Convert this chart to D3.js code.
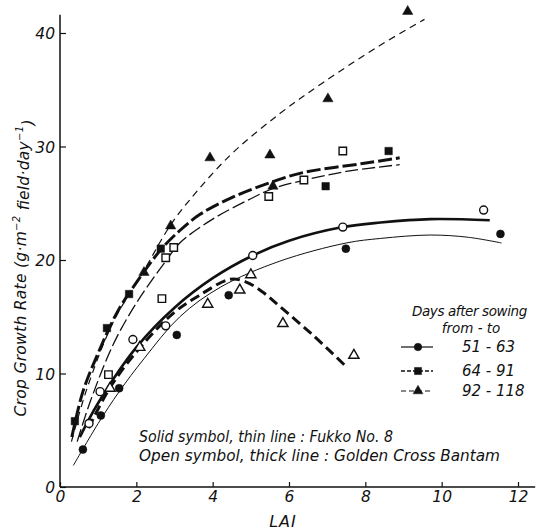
<!DOCTYPE html>
<html>
<head>
<meta charset="utf-8">
<script src="https://cdn.jsdelivr.net/npm/d3@7"></script>
<style>
  body { margin: 0; background: #fff; }
  svg { display: block; }
  text { font-family: "DejaVu Sans", sans-serif; font-style: italic; fill: #111; }
</style>
</head>
<body>
<svg id="chart" width="543" height="531"></svg>
<script>
// Observed crop growth rate vs. LAI, as [LAI, CGR] pairs.
// Fukko No. 8 (solid symbols)
const fukko51 = [[0.6,3.3],[1.07,6.3],[1.55,8.7],[3.06,13.4],[4.42,16.9],[7.49,21.0],[11.54,22.3]];
const fukko64 = [[0.39,5.8],[1.23,14.0],[1.81,17.0],[2.64,21.0],[6.96,26.5],[8.61,29.6]];
const fukko92 = [[2.2,18.9],[2.9,23.0],[3.93,29.0],[5.5,29.25],[5.58,26.5],[7.02,34.2],[9.11,41.9]];
// Golden Cross Bantam (open symbols)
const gcb51 = [[0.76,5.6],[1.05,8.4],[1.91,13.0],[2.77,14.2],[5.05,20.4],[7.41,22.9],[11.1,24.4]];
const gcb64 = [[1.27,9.9],[2.67,16.6],[2.77,20.2],[2.98,21.1],[5.47,25.6],[6.39,27.05],[7.41,29.6]];
const gcb92 = [[1.31,8.7],[2.09,12.3],[3.87,16.1],[4.71,17.35],[5.0,18.7],[5.84,14.4],[7.7,11.6]];

// Fitted response curves, traced as knots along each line.
const fukko51Curve = [[0.35,1.9],[1.0,5.6],[1.55,8.4],[2.2,11.3],[3.14,15.0],[4.2,17.6],[5.76,19.9],[7.5,21.5],[8.4,21.9],[9.7,22.2],[10.7,22.0],[11.57,21.5]];
const fukko64Curve = [[0.45,4.0],[0.8,7.6],[1.4,12.6],[2.0,16.2],[2.77,19.9],[3.14,21.5],[4.0,23.6],[5.0,25.4],[5.58,26.3],[6.36,27.0],[7.5,27.8],[8.9,28.4]];
const fukko92Curve = [[0.3,4.0],[0.7,8.6],[1.39,14.5],[2.17,18.9],[2.88,23.0],[3.4,25.3],[4.45,29.2],[5.76,32.9],[6.88,35.6],[8.38,38.9],[9.55,41.2]];
const gcb51Curve = [[0.52,4.4],[1.0,7.4],[2.0,12.3],[3.0,15.8],[4.0,18.4],[5.05,20.4],[6.0,21.7],[7.41,22.9],[8.4,23.3],[9.7,23.6],[11.26,23.5]];
const gcb64Curve = [[0.31,4.4],[0.6,8.4],[1.0,11.8],[1.5,15.4],[2.0,18.0],[2.64,20.9],[3.14,22.6],[3.66,24.0],[4.5,25.5],[5.58,26.9],[6.36,27.7],[7.93,28.5],[8.9,29.0]];
const gcb92Curve = [[0.75,5.2],[1.3,8.7],[2.1,12.3],[3.0,15.4],[3.66,16.9],[4.45,18.3],[4.85,18.1],[5.3,17.2],[5.76,15.9],[6.62,13.4],[7.5,10.6]];

const xTicks = [0, 2, 4, 6, 8, 10, 12];
const yTicks = [0, 10, 20, 30, 40];
const periodLabels = ["51 - 63", "64 - 91", "92 - 118"];

const svg = d3.select("#chart");
const x = d3.scaleLinear().domain([0, 12]).range([60, 518]);
const y = d3.scaleLinear().domain([0, 40]).range([487, 33]);

// Axes: ticks point inward
const gx = svg.append("g").attr("transform", `translate(0,${y(0)})`)
  .call(d3.axisBottom(x).tickValues(xTicks).tickSizeInner(-5).tickSizeOuter(0).tickPadding(4));
const gy = svg.append("g").attr("transform", `translate(${x(0)},0)`)
  .call(d3.axisLeft(y).tickValues(yTicks).tickSizeInner(-6).tickSizeOuter(0).tickPadding(5));
[gx, gy].forEach(g => {
  g.select(".domain").remove();
  g.selectAll(".tick line").attr("stroke", "#111").attr("stroke-width", 1.2);
  g.selectAll(".tick text").attr("font-size", 15.5).attr("fill", "#111")
    .attr("font-family", "DejaVu Sans, sans-serif").attr("font-style", "italic");
});
gy.selectAll(".tick text").attr("dy", "0.36em");

svg.append("line").attr("x1", x(0)).attr("x2", x(0)).attr("y1", y(0)).attr("y2", y(41.6))
  .attr("stroke", "#111").attr("stroke-width", 1.5);
svg.append("line").attr("x1", x(0)).attr("x2", x(12.45)).attr("y1", y(0)).attr("y2", y(0))
  .attr("stroke", "#111").attr("stroke-width", 1.5);

// Curves
const line = d3.line().x(d => x(d[0])).y(d => y(d[1])).curve(d3.curveCatmullRom.alpha(0.5));
const curves = [
  { data: fukko51Curve, w: 1.0, dash: null },
  { data: gcb51Curve,   w: 2.6, dash: null },
  { data: fukko64Curve, w: 1.3, dash: "13,4" },
  { data: gcb64Curve,   w: 3.0, dash: "14,4" },
  { data: fukko92Curve, w: 1.2, dash: "7,5" },
  { data: gcb92Curve,   w: 3.0, dash: "10,5" }
];
curves.forEach(c => {
  svg.append("path").attr("d", line(c.data)).attr("fill", "none")
    .attr("stroke", "#111").attr("stroke-width", c.w)
    .attr("stroke-dasharray", c.dash);
});

// Markers
const shapes = { circle: d3.symbolCircle, square: d3.symbolSquare, triangle: d3.symbolTriangle };
const sizes = { circle: 50, square: 56, triangle: 46 };
function marker(g, shape, filled, cx, cy, scale = 1) {
  g.append("path")
    .attr("d", d3.symbol().type(shapes[shape]).size(sizes[shape] * scale)())
    .attr("transform", `translate(${cx},${cy})`)
    .attr("fill", filled ? "#111" : "#fff")
    .attr("stroke", "#111").attr("stroke-width", filled ? 0.5 : 1.4);
}
const pointSets = [
  { data: fukko51, shape: "circle", filled: true },
  { data: fukko64, shape: "square", filled: true },
  { data: fukko92, shape: "triangle", filled: true },
  { data: gcb51, shape: "circle", filled: false },
  { data: gcb64, shape: "square", filled: false },
  { data: gcb92, shape: "triangle", filled: false }
];
const gPts = svg.append("g");
pointSets.forEach(s => s.data.forEach(d => marker(gPts, s.shape, s.filled, x(d[0]), y(d[1]))));

// Axis titles
svg.append("text").attr("x", 283).attr("y", 527).attr("text-anchor", "middle")
  .attr("font-size", 16).attr("letter-spacing", 1).text("LAI");
const yt = svg.append("text").attr("transform", "translate(26,268) rotate(-90)")
  .attr("text-anchor", "middle").attr("font-size", 15.5);
yt.append("tspan").text("Crop Growth Rate (g·m");
yt.append("tspan").attr("font-size", 10).attr("dy", "-0.6em").text("−2");
yt.append("tspan").attr("dy", "0.6em").text(" field·day");
yt.append("tspan").attr("font-size", 10).attr("dy", "-0.6em").text("−1");
yt.append("tspan").attr("dy", "0.6em").text(")");
yt.attr("textLength", 297).attr("lengthAdjust", "spacing");

// Cultivar note
svg.append("text").attr("x", 139).attr("y", 442).attr("font-size", 15)
  .attr("textLength", 254).attr("lengthAdjust", "spacingAndGlyphs")
  .text("Solid symbol, thin line : Fukko No. 8");
svg.append("text").attr("x", 139).attr("y", 461).attr("font-size", 15)
  .attr("textLength", 361).attr("lengthAdjust", "spacingAndGlyphs")
  .text("Open symbol, thick line : Golden Cross Bantam");

// Legend
svg.append("text").attr("x", 412).attr("y", 316).attr("font-size", 13.5)
  .attr("letter-spacing", -0.4).text("Days after sowing");
svg.append("text").attr("x", 471).attr("y", 333).attr("font-size", 13.5)
  .attr("text-anchor", "middle").text("from - to");
const legendStyles = [
  { shape: "circle", w: 1.2, dash: null, cy: 347 },
  { shape: "square", w: 1.4, dash: "4,2", cy: 371 },
  { shape: "triangle", w: 1.2, dash: "5,3", cy: 391 }
];
legendStyles.forEach((s, i) => {
  svg.append("line").attr("x1", 401).attr("x2", 433).attr("y1", s.cy).attr("y2", s.cy)
    .attr("stroke", "#111").attr("stroke-width", s.w).attr("stroke-dasharray", s.dash);
  marker(svg, s.shape, true, 418, s.cy, 0.9);
  svg.append("text").attr("x", 462).attr("y", s.cy + 5).attr("font-size", 15)
    .attr("xml:space", "preserve").text(periodLabels[i]);
});
</script>
</body>
</html>
